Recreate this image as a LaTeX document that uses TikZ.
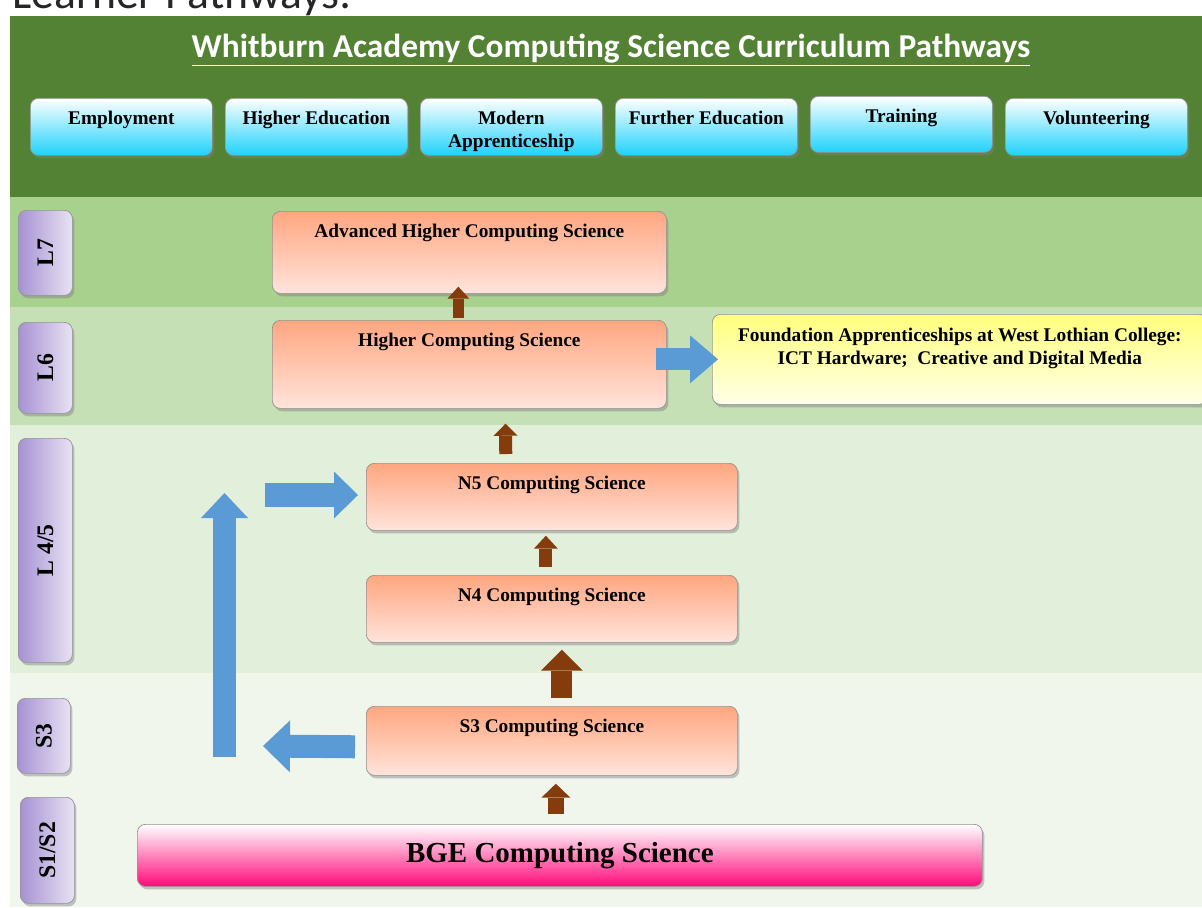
\documentclass[tikz,border=0pt]{standalone}
\usepackage{fontspec}
\setmainfont{Liberation Serif}
\newfontfamily\calibri{Carlito}
\usetikzlibrary{arrows.meta,shadows}

\newdimen\px \px=0.02cm

\definecolor{headgreen}{RGB}{84,130,53}
\definecolor{bandseven}{RGB}{169,209,142}
\definecolor{bandsix}{RGB}{197,224,180}
\definecolor{bandfour}{RGB}{226,239,218}
\definecolor{bandthree}{RGB}{240,246,236}
\definecolor{routecyan}{RGB}{30,210,250}
\definecolor{tabpurple}{RGB}{166,146,210}
\definecolor{tablilac}{RGB}{232,226,244}
\definecolor{stagetop}{RGB}{255,166,128}
\definecolor{stagebot}{RGB}{255,228,220}
\definecolor{fayellow}{RGB}{255,255,125}
\definecolor{fapale}{RGB}{255,255,232}
\definecolor{bgepink}{RGB}{255,10,122}
\definecolor{arrowbrown}{RGB}{132,60,12}
\definecolor{arrowblue}{RGB}{91,155,213}

\tikzset{
  box/.style={draw=gray!85, rounded corners=8\px, anchor=north west, inner sep=0pt,
    drop shadow={shadow xshift=2\px, shadow yshift=-3\px, opacity=0.45}},
  txt/.style={font=\bfseries\fontsize{11}{13}\selectfont, align=center, inner sep=0pt},
  route/.style={box, top color=white, bottom color=routecyan, minimum width=182\px,
    minimum height=57\px, label={[txt, anchor=north, yshift=-13\px]north:#1}},
  level/.style={box, left color=tabpurple, right color=tablilac, minimum width=54\px,
    font=\bfseries\fontsize{13.5}{16}\selectfont},
  stage/.style={box, top color=stagetop, bottom color=stagebot,
    label={[txt, anchor=north, yshift=-13\px]north:#1}},
  % block arrows: shaft, head width, head length (cm)
  rise/.style n args={3}{draw=arrowbrown, line width=#1cm,
    -{Triangle[width=#2cm, length=#3cm, line width=0pt]}},
  flow/.style n args={3}{draw=arrowblue, line width=#1cm,
    -{Triangle[width=#2cm, length=#3cm, line width=0pt]}}
}

\begin{document}
\begin{tikzpicture}[x=0.02cm, y=-0.02cm]
  \useasboundingbox (0,0) rectangle (1202,907);
  \fill[white] (0,0) rectangle (1202,907);
  %% Bands
  \fill[headgreen] (10,16) rectangle (1202,197);
  \fill[bandseven] (10,197) rectangle (1202,307);
  \fill[bandsix] (10,307) rectangle (1202,425);
  \fill[bandfour] (10,425) rectangle (1202,673);
  \fill[bandthree] (10,673) rectangle (1202,907);
  %% Headings
  \node[anchor=base west, inner sep=0pt, text=black!85, font=\calibri\fontsize{26}{30}\selectfont] (heading) at (12,8) {Learner Pathways:};
  \node[anchor=base, inner sep=0pt, text=white, font=\calibri\bfseries\fontsize{19}{23}\selectfont] (title) at (611,57) {\underline{Whitburn Academy Computing Science Curriculum Pathways}};
  %% Destinations
  \node[route=Employment] (emp) at (30,98) {};
  \node[route={Higher Education}] (hed) at (225,98) {};
  \node[route={Modern\\Apprenticeship}] (mod) at (420,98) {};
  \node[route={Further Education}] (fed) at (615,98) {};
  \node[route=Training, minimum height=56\px] (trn) at (810,96) {};
  \node[route=Volunteering] (vol) at (1005,98) {};
  %% Levels
  \node[level, minimum height=85\px] (l7) at (18,210) {\rotatebox{90}{L7}};
  \node[level, minimum height=91\px] (l6) at (18,322) {\rotatebox{90}{L6}};
  \node[level, minimum height=224\px] (l45) at (18,438) {\rotatebox{90}{L 4/5}};
  \node[level, minimum height=75\px, minimum width=53\px] (ls3) at (17,698) {\rotatebox{90}{S3}};
  \node[level, minimum height=106\px] (ls12) at (20,797) {\rotatebox{90}{S1/S2}};
  %% Courses
  \node[stage={Advanced Higher Computing Science}, minimum width=394\px, minimum height=82\px] (ah) at (272,211) {};
  \node[stage={Higher Computing Science}, minimum width=394\px, minimum height=88\px] (hi) at (272,320) {};
  \node[stage={N5 Computing Science}, minimum width=371\px, minimum height=67\px] (n5) at (366,463) {};
  \node[stage={N4 Computing Science}, minimum width=371\px, minimum height=67\px] (n4) at (366,575) {};
  \node[stage={S3 Computing Science}, minimum width=371\px, minimum height=69\px] (s3) at (366,706) {};
  \node[box, top color=fayellow, bottom color=fapale, minimum width=495\px, minimum height=90\px,
    label={[txt, anchor=north, yshift=-14\px]north:Foundation Apprenticeships at West Lothian College:\\ICT Hardware;\ \ Creative and Digital Media}] (fa) at (712,314) {};
  \node[box, top color=white, bottom color=bgepink, minimum width=845\px, minimum height=62\px,
    font=\bfseries\fontsize{16.5}{20}\selectfont] (bge) at (137,824) {BGE Computing Science};
  %% Progression
  \draw[rise={0.22}{0.44}{0.24}, shorten <=2\px, shorten >=-7\px] ([xshift=-11\px]hi.north) -- ([xshift=-11\px]ah.south);
  \draw[rise={0.26}{0.48}{0.24}, shorten <=9\px, shorten >=15\px] ([xshift=-46\px]n5.north) -- ([xshift=36\px]hi.south);
  \draw[rise={0.26}{0.48}{0.26}, shorten <=8\px, shorten >=5\px] ([xshift=-6\px]n4.north) -- ([xshift=-6\px]n5.south);
  \draw[rise={0.42}{0.84}{0.42}, shorten <=8\px, shorten >=7\px] ([xshift=10\px]s3.north) -- ([xshift=10\px]n4.south);
  \draw[rise={0.32}{0.58}{0.28}, shorten <=10\px, shorten >=8\px] ([xshift=-4\px]bge.north) -- ([xshift=4\px]s3.south);
  %% Side routes
  \draw[flow={0.44}{0.96}{0.56}, shorten <=-11\px, shorten >=-6\px] (hi.east |- fa.west) -- (fa.west);
  \coordinate (turn) at (263,746);
  \coordinate (foot) at (224.5,757);
  \coordinate (peak) at (224.5,493);
  \coordinate (entry) at (265,495);
  \draw[flow={0.46}{1.04}{0.54}, shorten <=11\px] ([yshift=-6\px]s3.west) -- (turn);
  \draw[flow={0.46}{0.94}{0.5}] (foot) -- (peak);
  \draw[flow={0.48}{0.94}{0.48}, shorten >=8\px] (entry) -- (entry -| n5.west);
\end{tikzpicture}
\end{document}
